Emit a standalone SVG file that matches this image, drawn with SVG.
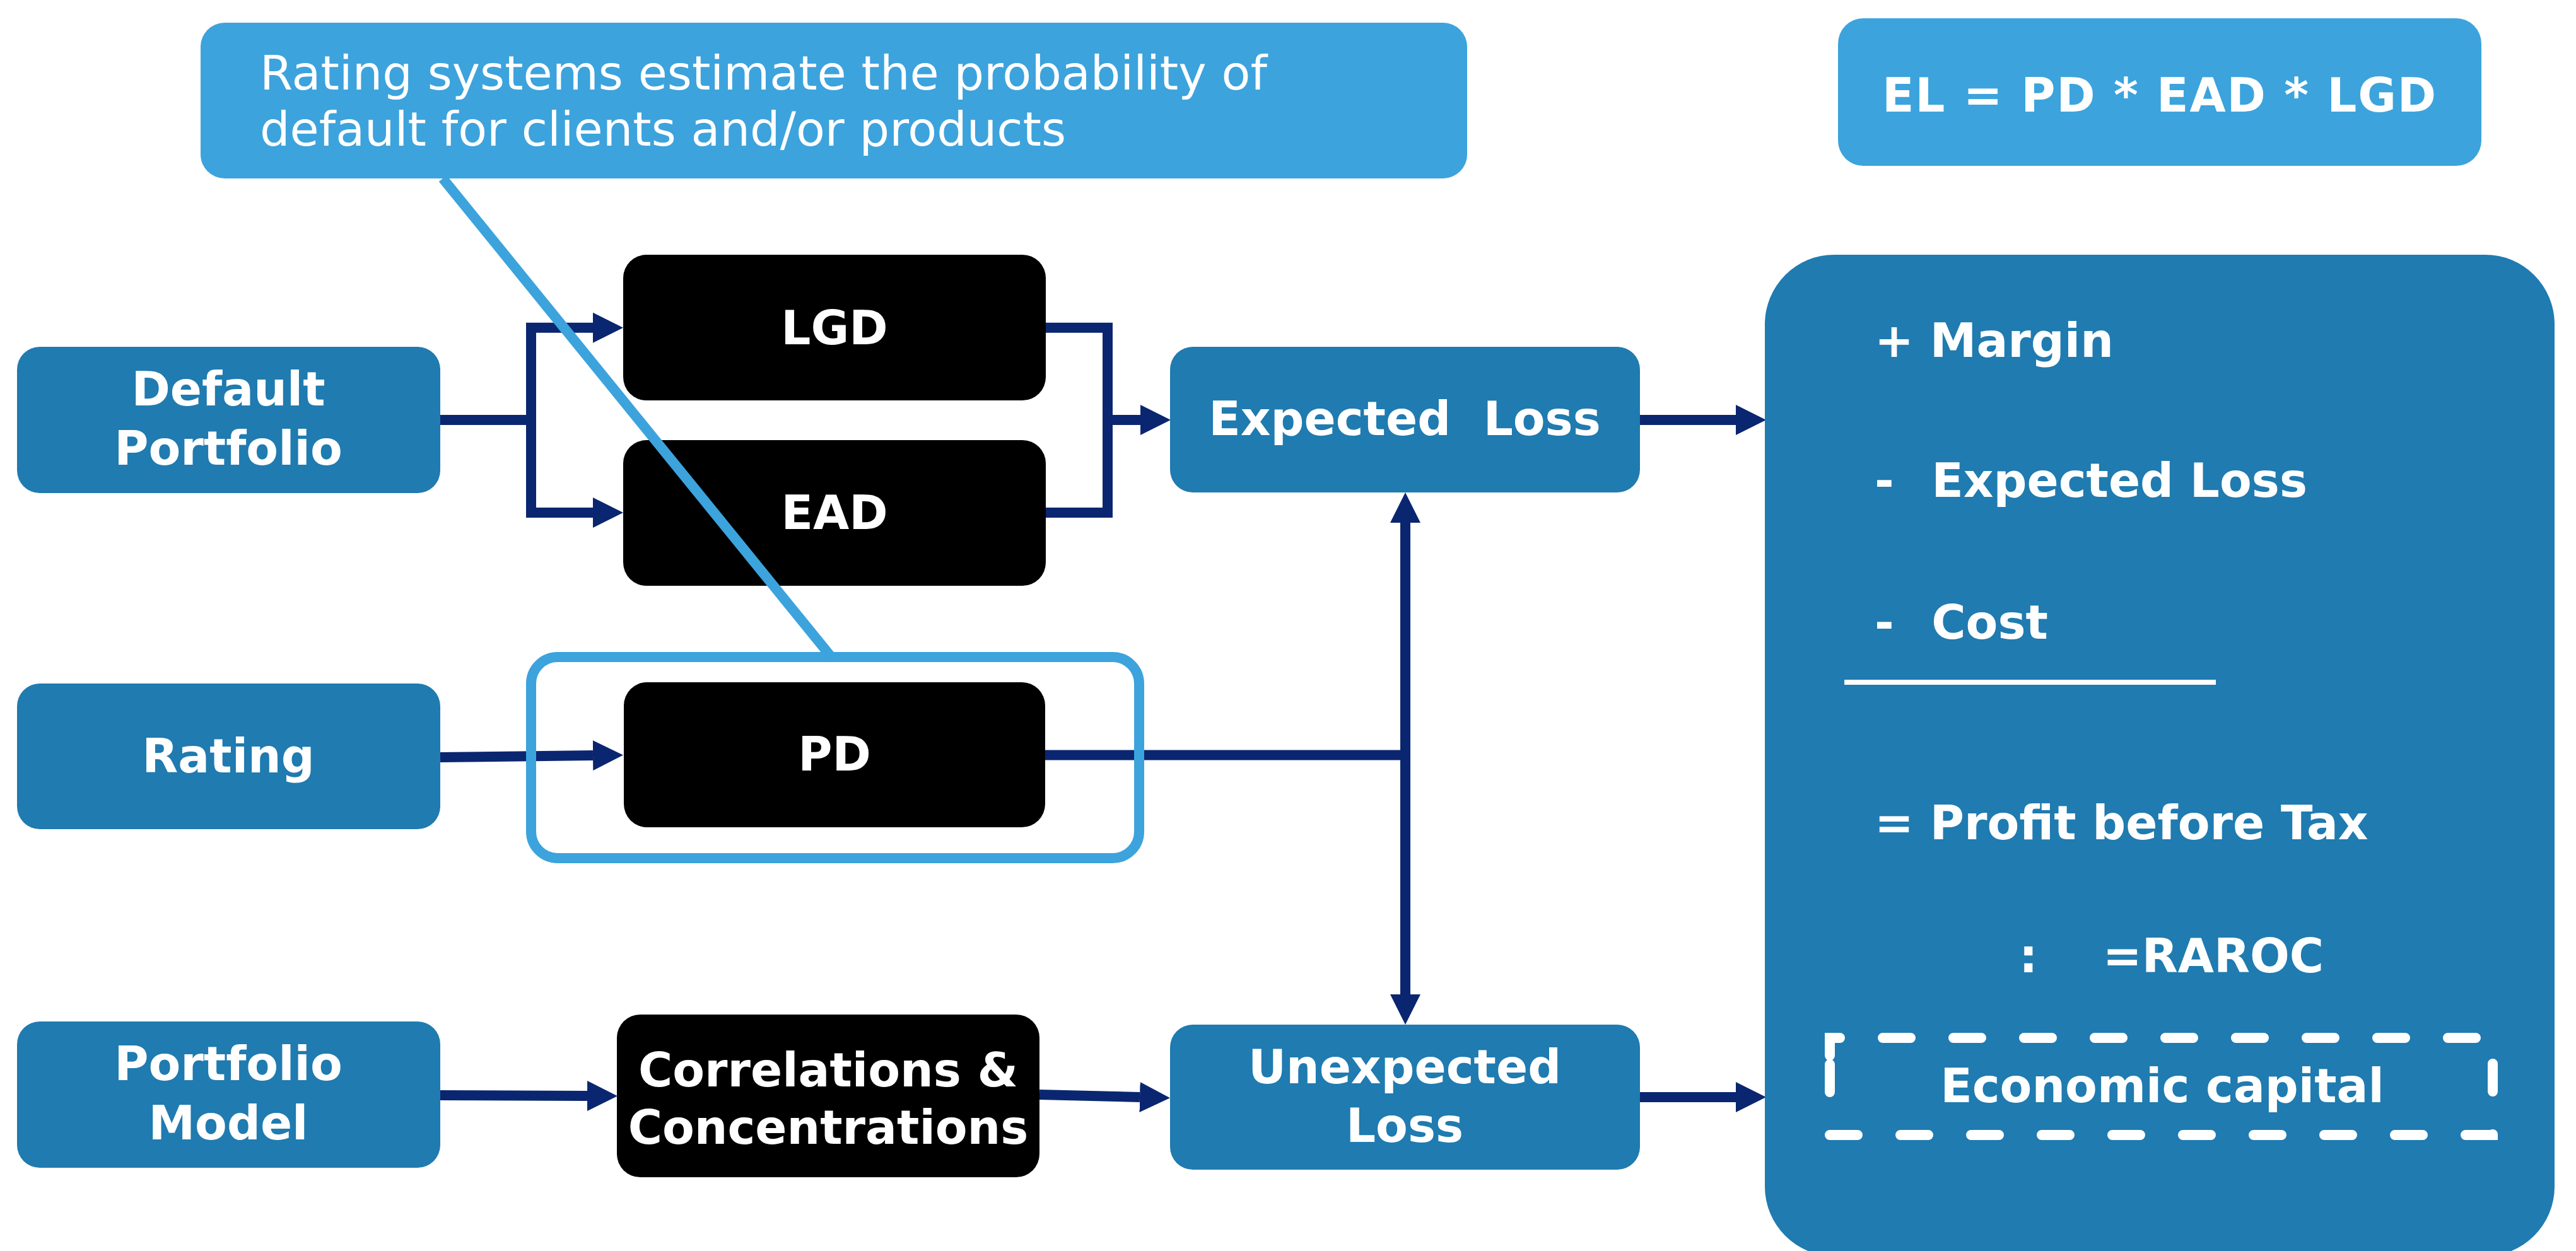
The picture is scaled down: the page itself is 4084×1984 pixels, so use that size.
<svg xmlns="http://www.w3.org/2000/svg" width="4084" height="1984" viewBox="0 0 4084 1984">
  <style>
    .node { fill: #1F7BB0; }
    .dark { fill: #000000; }
    .light { fill: #3CA3DD; }
    .lbl { font-family: "DejaVu Sans", Verdana, sans-serif; font-weight: bold; font-size: 74px; fill: #FFFFFF; }
    .mid { text-anchor: middle; }
    .note { font-family: "DejaVu Sans", Verdana, sans-serif; font-size: 75px; fill: #FFFFFF; }
    .wire { fill: none; stroke: #0B2670; stroke-width: 16; stroke-linejoin: miter; }
    .hl { fill: none; stroke: #3CA3DD; stroke-width: 16; }
  </style>
  <defs>
    <marker id="arrow" viewBox="0 0 48 48" refX="0" refY="24" markerWidth="48" markerHeight="48" markerUnits="userSpaceOnUse" orient="auto-start-reverse">
      <path d="M0,0 L48,24 L0,48 Z" fill="#0B2670"/>
    </marker>
  </defs>

  <rect width="4084" height="1984" fill="#FFFFFF"/>

  <!-- connectors -->
  <g id="connectors">
    <!-- Default Portfolio fans out to LGD and EAD -->
    <path class="wire" d="M698,666 H842"/>
    <path class="wire" d="M940,519.75 H842 V813 H940" marker-start="url(#arrow)" marker-end="url(#arrow)"/>
    <!-- LGD and EAD merge into Expected Loss -->
    <path class="wire" d="M1658,519.75 H1756 V813 H1658"/>
    <path class="wire" d="M1756,666 H1808" marker-end="url(#arrow)"/>
    <!-- Rating to PD -->
    <path class="wire" d="M698,1201 L940,1198" marker-end="url(#arrow)"/>
    <!-- PD feeds both loss measures -->
    <path class="wire" d="M1657,1197.5 H2236"/>
    <path class="wire" d="M2228,829 V1577" marker-start="url(#arrow)" marker-end="url(#arrow)"/>
    <!-- Portfolio model chain -->
    <path class="wire" d="M698,1737 L931,1738" marker-end="url(#arrow)"/>
    <path class="wire" d="M1648,1736 L1807,1740" marker-end="url(#arrow)"/>
    <!-- into the RAROC panel -->
    <path class="wire" d="M2600,666 H2752" marker-end="url(#arrow)"/>
    <path class="wire" d="M2600,1740 H2752" marker-end="url(#arrow)"/>
  </g>

  <!-- input nodes -->
  <g id="default-portfolio">
    <rect class="node" x="27" y="550" width="671" height="232" rx="36"/>
    <text class="lbl mid" x="362" y="643">Default</text>
    <text class="lbl mid" x="362" y="737">Portfolio</text>
  </g>
  <g id="rating">
    <rect class="node" x="27" y="1084" width="671" height="231" rx="36"/>
    <text class="lbl mid" x="362" y="1225">Rating</text>
  </g>
  <g id="portfolio-model">
    <rect class="node" x="27" y="1620" width="671" height="232" rx="36"/>
    <text class="lbl mid" x="362" y="1713">Portfolio</text>
    <text class="lbl mid" x="362" y="1807">Model</text>
  </g>

  <!-- risk parameters -->
  <g id="lgd">
    <rect class="dark" x="988" y="404" width="670" height="231" rx="37"/>
    <text class="lbl mid" x="1323" y="546">LGD</text>
  </g>
  <g id="ead">
    <rect class="dark" x="988" y="698" width="670" height="231" rx="37"/>
    <text class="lbl mid" x="1323" y="839">EAD</text>
  </g>
  <g id="pd">
    <rect class="dark" x="989" y="1082" width="668" height="230" rx="37"/>
    <text class="lbl mid" x="1323" y="1222">PD</text>
  </g>
  <g id="correlations">
    <rect class="dark" x="978" y="1609" width="670" height="258" rx="37"/>
    <text class="lbl mid" x="1313" y="1723">Correlations &amp;</text>
    <text class="lbl mid" x="1313" y="1814">Concentrations</text>
  </g>

  <!-- loss measures -->
  <g id="expected-loss">
    <rect class="node" x="1855" y="550" width="745" height="231" rx="36"/>
    <text class="lbl mid" x="2227" y="690" xml:space="preserve">Expected  Loss</text>
  </g>
  <g id="unexpected-loss">
    <rect class="node" x="1855" y="1625" width="745" height="230" rx="36"/>
    <text class="lbl mid" x="2227" y="1718">Unexpected</text>
    <text class="lbl mid" x="2227" y="1811">Loss</text>
  </g>

  <!-- RAROC panel -->
  <g id="raroc">
    <rect class="node" x="2798" y="404" width="1252" height="1588" rx="110"/>
    <text class="lbl" x="2972" y="566">+ Margin</text>
    <text class="lbl" x="2972" y="788" xml:space="preserve">-  <tspan dx="8">Expected Loss</tspan></text>
    <text class="lbl" x="2972" y="1013" xml:space="preserve">-  <tspan dx="8">Cost</tspan></text>
    <rect x="2924" y="1078" width="589" height="8" fill="#FFFFFF"/>
    <text class="lbl" x="2972" y="1331">= Profit before Tax</text>
    <text class="lbl" x="3201" y="1542" xml:space="preserve">:    =RAROC</text>
    <path d="M2901,1674 V1646 H3952 V1800 H2901 Z" fill="none" stroke="#FFFFFF" stroke-width="16" stroke-linecap="round" stroke-dasharray="44 68"/>
    <text class="lbl mid" x="3428" y="1748">Economic capital</text>
  </g>

  <!-- formula -->
  <g id="formula">
    <rect class="light" x="2914" y="29" width="1020" height="234" rx="40"/>
    <text class="lbl mid" x="3424" y="177" letter-spacing="1.8">EL = PD * EAD * LGD</text>
  </g>

  <!-- rating-system note pointing at PD -->
  <g id="rating-note">
    <rect class="hl" x="842" y="1042" width="964" height="319" rx="42"/>
    <line x1="702" y1="283" x2="1318" y2="1042" stroke="#3CA3DD" stroke-width="16"/>
    <rect class="light" x="318" y="36" width="2008" height="247" rx="38"/>
    <text class="note" x="412" y="142">Rating systems estimate the probability of</text>
    <text class="note" x="412" y="231">default for clients and/or products</text>
  </g>
</svg>
